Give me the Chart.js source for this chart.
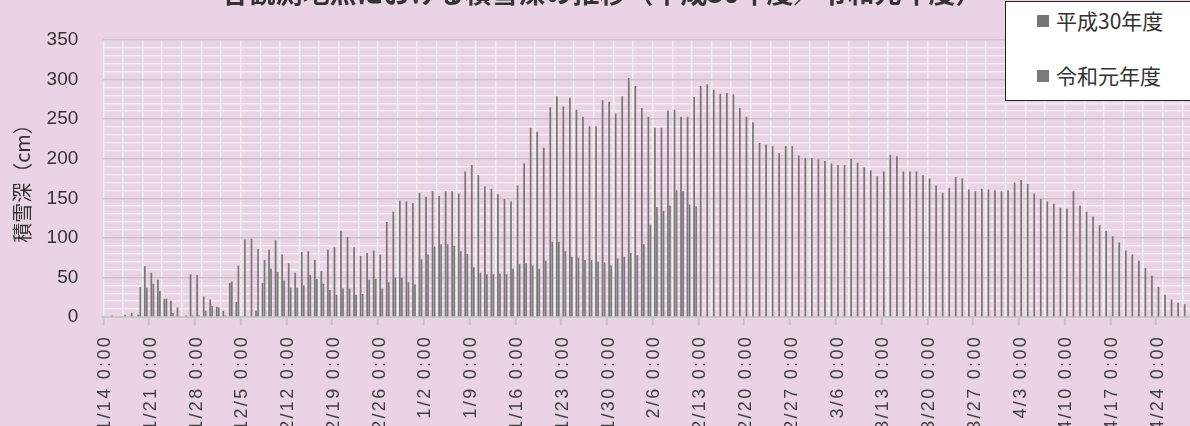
<!DOCTYPE html>
<html lang="ja">
<head>
<meta charset="utf-8">
<title>積雪深</title>
<script src="https://cdn.jsdelivr.net/npm/chart.js@4.4.1/dist/chart.umd.min.js"></script>
<style>
  html, body { margin: 0; padding: 0; background: #ebd3e6; overflow: hidden; }
  #wrap { position: relative; width: 1190px; height: 426px; overflow: hidden; }
  #chart { position: absolute; left: 0; top: 0; }
  #title { position: absolute; left: 0; top: -22px; width: 1204px; text-align: center;
           font: bold 27px/27px "Noto Sans CJK JP"; color: #333; white-space: nowrap; }
  #legend { position: absolute; left: 1005px; top: 1px; width: 200px; height: 100px; background: #fff;
            border: 1.5px solid #222; box-sizing: border-box; font: 21px "Noto Sans CJK JP"; color: #333; }
  .item { position: absolute; left: 31px; height: 26px; line-height: 26px; white-space: nowrap; }
  .item i { display: inline-block; width: 12px; height: 12px; margin-right: 7px; vertical-align: middle;
            position: relative; top: -2px; }
</style>
</head>
<body>
<div id="wrap">
  <canvas id="chart" width="1202" height="426"></canvas>
  <div id="title">各観測地点における積雪深の推移（平成30年度／令和元年度）</div>
  <div id="legend"></div>
</div>
<script>
// series names
const seriesNames = ['平成30年度', '令和元年度'];

// daily snow depth (cm) from 11/14
const depthH30 = [
  0, 2, 0, 3, 5, 3, 64, 56, 47, 23,
  21, 12, 1, 54, 53, 26, 22, 13, 8, 43,
  19, 1, 0, 8, 43, 85, 97, 79, 68, 56,
  82, 83, 72, 58, 85, 88, 109, 101, 88, 77,
  81, 84, 79, 120, 133, 147, 146, 144, 157, 152,
  159, 153, 159, 159, 156, 184, 192, 179, 165, 162,
  155, 149, 146, 166, 194, 239, 234, 214, 265, 279,
  266, 277, 262, 253, 241, 241, 274, 272, 257, 279,
  302, 292, 264, 253, 239, 239, 261, 262, 253, 253,
  278, 292, 294, 287, 282, 283, 281, 264, 253, 246,
  220, 218, 216, 207, 216, 216, 204, 201, 201, 199,
  197, 194, 192, 192, 200, 195, 189, 185, 178, 184,
  205, 203, 184, 184, 184, 179, 175, 166, 157, 163,
  177, 175, 161, 159, 162, 161, 160, 159, 160, 170,
  173, 168, 156, 149, 146, 143, 138, 137, 159, 141,
  133, 127, 116, 109, 102, 94, 84, 79, 71, 62,
  52, 38, 28, 22, 18, 16, 7, 3
];

const depthR1 = [
  0, 0, 0, 0, 1, 38, 37, 42, 33, 23,
  5, 1, 2, 2, 2, 8, 14, 12, 2, 45,
  65, 98, 99, 86, 72, 61, 57, 46, 37, 37,
  40, 53, 48, 42, 34, 28, 36, 36, 28, 29,
  47, 48, 36, 44, 50, 50, 44, 41, 73, 79,
  89, 92, 92, 90, 83, 80, 63, 56, 54, 54,
  55, 54, 61, 67, 68, 65, 61, 71, 95, 95,
  83, 76, 75, 72, 72, 70, 69, 65, 74, 76,
  81, 78, 92, 117, 139, 134, 141, 160, 159, 142,
  140
];

const yTicks = [0, 50, 100, 150, 200, 250, 300, 350];

// one category per day, 11/14 .. 4/30
const days = [];
for (let i = 0; i < depthH30.length; i++) {
  const d = new Date(2018, 10, 14 + i);
  days.push((d.getMonth() + 1) + '/' + d.getDate() + ' 0:00');
}

const barColors = ['#767676', '#7a7a7a'];
const majorGrid = '#c9c6c9';
const minorGrid = '#f1eef1';

// legend
const legend = document.getElementById('legend');
seriesNames.forEach((name, i) => {
  const item = document.createElement('div');
  item.className = 'item';
  item.style.top = (i === 0 ? 5 : 60) + 'px';
  item.innerHTML = '<i style="background:' + barColors[i] + '"></i>' + name;
  legend.appendChild(item);
});

// x labels get wider letter spacing, drawn after the bars
const xLabelSpacing = {
  id: 'xLabelSpacing',
  beforeDraw(chart) { chart.ctx.letterSpacing = '0px'; },
  afterDatasetsDraw(chart) { chart.ctx.letterSpacing = '2.3px'; },
  afterDraw(chart) { chart.ctx.letterSpacing = '0px'; }
};

new Chart(document.getElementById('chart'), {
  type: 'bar',
  data: {
    labels: days,
    datasets: [
      { label: seriesNames[0], data: depthH30, backgroundColor: barColors[0], borderWidth: 0 },
      { label: seriesNames[1], data: depthR1, backgroundColor: barColors[1], borderWidth: 0 }
    ]
  },
  options: {
    responsive: false,
    devicePixelRatio: 1,
    animation: false,
    categoryPercentage: 0.62,
    barPercentage: 0.85,
    layout: { padding: { top: 40, left: 0, right: 0, bottom: 0 } },
    plugins: { legend: { display: false }, tooltip: { enabled: false } },
    scales: {
      x: {
        afterFit: s => { s.height = 109; s.paddingLeft = 0; s.paddingRight = 0; },
        border: { display: true, color: '#c8c8c8', width: 2 },
        grid: {
          offset: true,
          lineWidth: 1.5,
          color: c => (c.index % 3 === 0 ? minorGrid : 'rgba(0,0,0,0)'),
          tickColor: c => (c.index % 7 === 0 ? '#c4c4c4' : 'rgba(0,0,0,0)'),
          tickLength: 8,
          tickWidth: 2
        },
        ticks: {
          z: 1,
          autoSkip: false,
          maxRotation: 90,
          minRotation: 90,
          padding: 10,
          labelOffset: -1.5,
          color: '#404040',
          font: { family: 'Liberation Sans', size: 18 },
          callback: (v, i) => (i % 7 === 0 ? days[i] : '')
        }
      },
      y: {
        min: 0,
        max: 350,
        afterFit: s => { s.width = 103.3; s.paddingTop = 0; s.paddingBottom = 0; },
        border: { display: false },
        grid: {
          lineWidth: 1.5,
          drawTicks: false,
          color: c => (c.tick && yTicks.includes(c.tick.value) ? majorGrid : minorGrid)
        },
        ticks: {
          autoSkip: false,
          stepSize: 10,
          padding: 25,
          color: '#333',
          font: { family: 'Liberation Sans', size: 19 },
          callback: v => (yTicks.includes(v) ? v : '')
        },
        title: {
          display: true,
          text: '積雪深（cm）',
          color: '#333',
          padding: { top: 10, bottom: 0 },
          font: { family: 'Noto Sans CJK JP', size: 20 }
        }
      }
    }
  },
  plugins: [xLabelSpacing]
});
</script>
</body>
</html>
